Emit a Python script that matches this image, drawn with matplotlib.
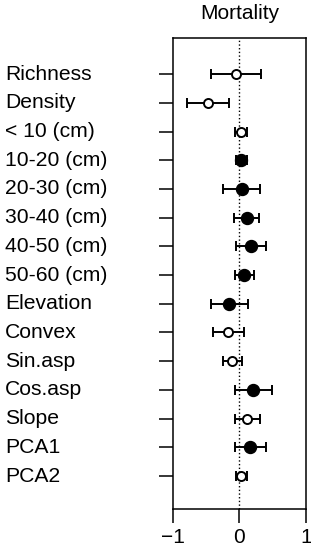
import matplotlib
matplotlib.use('Agg')
import matplotlib.pyplot as plt
from matplotlib.transforms import blended_transform_factory

labels = ['Richness', 'Density', '< 10 (cm)', '10-20 (cm)', '20-30 (cm)', '30-40 (cm)',
          '40-50 (cm)', '50-60 (cm)', 'Elevation', 'Convex', 'Sin.asp', 'Cos.asp',
          'Slope', 'PCA1', 'PCA2']
est = [-0.055, -0.47, 0.025, 0.03, 0.04, 0.115, 0.17, 0.075, -0.15, -0.165, -0.105, 0.21, 0.115, 0.165, 0.025]
lower = [-0.43, -0.79, -0.065, -0.05, -0.24, -0.075, -0.05, -0.06, -0.43, -0.40, -0.245, -0.065, -0.065, -0.06, -0.055]
upper = [0.32, -0.15, 0.115, 0.11, 0.315, 0.30, 0.40, 0.22, 0.125, 0.07, 0.035, 0.485, 0.315, 0.395, 0.12]
signif = [False, False, False, True, True, True, True, True, True, False, False, True, False, True, False]

plt.rcParams['font.family'] = ['Liberation Sans', 'DejaVu Sans']

fig = plt.figure(figsize=(3.11, 5.5), dpi=100)
ax = fig.add_axes([0.556, 0.0745, 0.428, 0.8565])

n = len(labels)
ypos = [n - i for i in range(n)]

ax.axvline(0, color='black', linestyle=':', linewidth=1.0, zorder=1)

for y, e, lo, hi, s in zip(ypos, est, lower, upper, signif):
    ax.errorbar(e, y, xerr=[[e - lo], [hi - e]], fmt='none', ecolor='black',
                elinewidth=1.4, capsize=3.6, capthick=1.4, zorder=2)
    if s:
        ax.plot(e, y, 'o', color='black', markersize=8.6, zorder=3)
    else:
        ax.plot(e, y, 'o', markerfacecolor='white', markeredgecolor='black',
                markeredgewidth=1.4, markersize=6.5, zorder=3)

ax.set_xlim(-1, 1)
ax.set_ylim(-0.15, n + 1.26)
ax.set_xticks([-1, 0, 1])
ax.set_xticklabels(['\u22121', '0', '1'])
ax.set_yticks(ypos)
ax.set_yticklabels([])
ax.tick_params(axis='both', direction='out', length=10, width=1.1, labelsize=15, pad=3.6)
for sp in ax.spines.values():
    sp.set_linewidth(1.1)

trans = blended_transform_factory(fig.transFigure, ax.transData)
for y, lab in zip(ypos, labels):
    ax.text(5 / 311, y, lab, transform=trans, ha='left', va='center', fontsize=15.2)

ax.set_title('Mortality', fontsize=15, pad=13.7)

fig.savefig('out.png', dpi=100)
